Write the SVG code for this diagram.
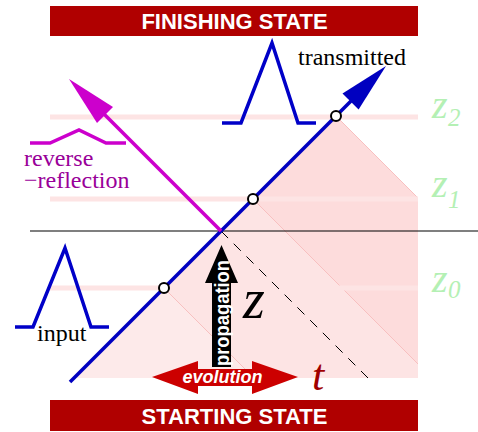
<svg xmlns="http://www.w3.org/2000/svg" width="478" height="432" viewBox="0 0 478 432">
<style>
.banner{fill:#b00000}
.btxt{font-family:"Liberation Sans",Arial,sans-serif;font-weight:bold;font-size:22px;fill:#fff;text-anchor:middle}
.zl{stroke:#fde4e4;stroke-width:5}
.edge{stroke:#f8c0c0;stroke-width:1;fill:none}
.lbl{font-family:"Liberation Serif","Times New Roman",serif;font-size:24px}
.zlab{font-family:"Liberation Serif","Times New Roman",serif;font-style:italic;fill:#b4f0b4}
.pulse{fill:none;stroke:#0000c8;stroke-width:3.5}
.pt{fill:#fff;stroke:#000;stroke-width:2}
</style>
<g id="shading">
<polygon points="336,116 418,198 418,378 74,378" fill="#fddcdc"/>
<polygon points="253,199 418,364 418,378 74,378" fill="#fde4e4"/>
<polygon points="164,288 254,378 74,378" fill="#fdeaea"/>
<line class="edge" x1="336" y1="116" x2="418" y2="198"/>
<line class="edge" x1="253" y1="199" x2="418" y2="364"/>
<line class="edge" x1="164" y1="288" x2="254" y2="378"/>
</g>
<g id="z-levels">
<line class="zl" x1="50" y1="117" x2="418" y2="117"/>
<line class="zl" x1="50" y1="199" x2="418" y2="199"/>
<line class="zl" x1="50" y1="288" x2="418" y2="288"/>
<text class="zlab" x="432" y="118" font-size="40">z</text><text class="zlab" x="448" y="126" font-size="25">2</text>
<text class="zlab" x="432" y="197" font-size="40">z</text><text class="zlab" x="448" y="208" font-size="25">1</text>
<text class="zlab" x="432" y="292" font-size="40">z</text><text class="zlab" x="448" y="298" font-size="25">0</text>
</g>
<g id="banners">
<g id="finishing"><rect class="banner" x="50" y="6" width="368" height="30"/><text class="btxt" x="234.5" y="29">FINISHING STATE</text></g>
<g id="starting"><rect class="banner" x="50" y="400" width="368" height="31"/><text class="btxt" x="234.5" y="424">STARTING STATE</text></g>
</g>
<g id="connectors">
<line x1="30" y1="231" x2="478" y2="231" stroke="#000" stroke-width="1.2"/>
<line x1="221" y1="231" x2="368" y2="378" stroke="#000" stroke-width="1" stroke-dasharray="10,8"/>
<line x1="70" y1="382" x2="360" y2="92" stroke="#0000c0" stroke-width="3.5"/>
<polygon points="386,66 342.5,93.4 358.6,109.5" fill="#0000c0"/>
<line x1="221" y1="231" x2="100" y2="110" stroke="#cc00cc" stroke-width="3.5"/>
<polygon points="69,79 113,107 97,123" fill="#cc00cc"/>
</g>
<g id="points">
<circle class="pt" cx="164" cy="288" r="5"/>
<circle class="pt" cx="253" cy="199" r="5"/>
<circle class="pt" cx="336" cy="116" r="5"/>
</g>
<g id="transmitted">
<polyline class="pulse" points="222,123 241,123 272,43 298,123 316,123"/>
<text class="lbl" x="298" y="65" fill="#000">transmitted</text>
</g>
<g id="input">
<polyline class="pulse" points="15,327 33,327 65,248 91,327 109,327"/>
<text class="lbl" x="37" y="341" fill="#000">input</text>
</g>
<g id="reflection">
<polyline points="30,143 50,143 79,130 106,143 126,143" fill="none" stroke="#cc00cc" stroke-width="3.5"/>
<text class="lbl" x="24" y="166" fill="#990099">reverse</text>
<text class="lbl" x="24" y="188" fill="#990099">−reflection</text>
</g>
<g id="propagation">
<polygon points="221.5,245 238,283 231,283 231,367 212,367 212,283 205,283" fill="#000"/>
<text transform="translate(228.5,366) rotate(-90)" font-family="Liberation Sans,Arial,sans-serif" font-weight="bold" font-size="20" fill="#fff" textLength="106" lengthAdjust="spacingAndGlyphs">propagation</text>
<text x="243" y="318" font-family="Liberation Serif,serif" font-style="italic" font-size="56" fill="#000">z</text>
</g>
<g id="evolution">
<polygon points="152,377 198,361 198,369 252,369 252,361 298,377 252,394 252,386 198,386 198,394" fill="#cc0000"/>
<text x="222.5" y="383" font-family="Liberation Sans,Arial,sans-serif" font-weight="bold" font-style="italic" font-size="18" fill="#fff" text-anchor="middle">evolution</text>
<text x="312" y="390" font-family="Liberation Serif,serif" font-style="italic" font-size="44" fill="#a00000">t</text>
</g>
</svg>
